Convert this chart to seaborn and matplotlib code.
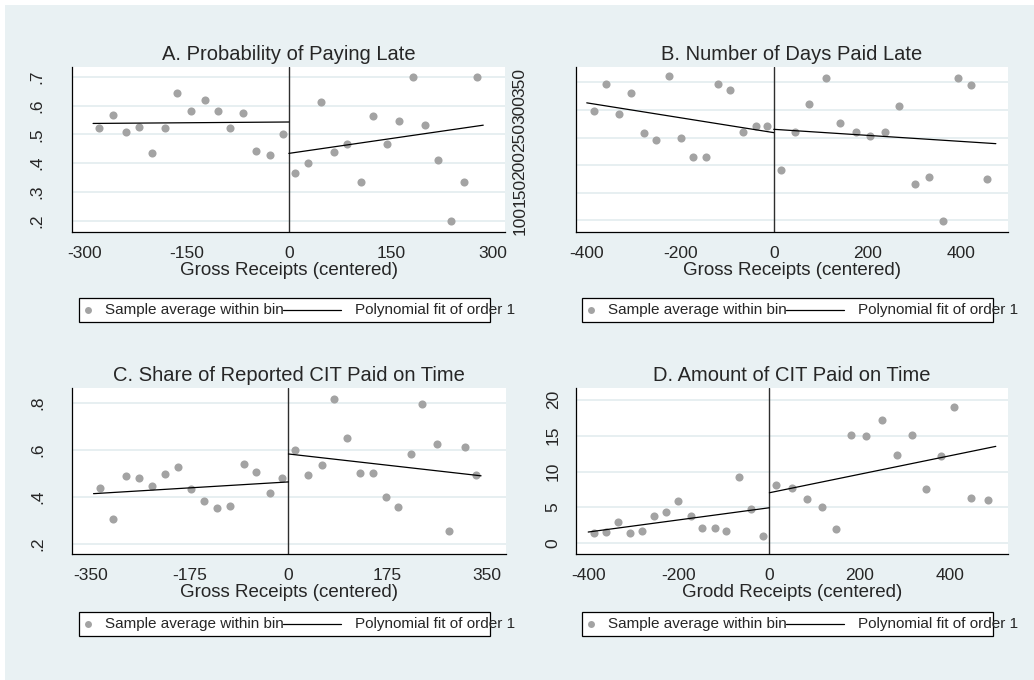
import matplotlib.pyplot as plt
import matplotlib.patches as patches
from matplotlib.lines import Line2D
import seaborn as sns

# ---- data (binned averages + linear fits) ----
a_left_x = [-279, -259, -240, -221, -202, -182, -164, -144, -124, -104, -86, -67, -48, -28, -9]
a_left_y = [0.523, 0.567, 0.508, 0.527, 0.436, 0.523, 0.642, 0.580, 0.620, 0.580, 0.523, 0.573, 0.442, 0.430, 0.500]
a_right_x = [9, 28, 47, 67, 86, 106, 124, 144, 162, 182, 201, 219, 239, 257, 277]
a_right_y = [0.366, 0.400, 0.611, 0.438, 0.468, 0.334, 0.563, 0.468, 0.545, 0.700, 0.534, 0.412, 0.200, 0.334, 0.700]
a_fit_left_x, a_fit_left_y = [-288, 0], [0.538, 0.543]
a_fit_right_x, a_fit_right_y = [0, 286], [0.434, 0.532]

b_left_x = [-385, -358, -331, -305, -278, -251, -224, -198, -172, -146, -119, -93, -66, -39, -14]
b_left_y = [298, 347, 293, 330, 259, 246, 361, 249, 215, 215, 348, 337, 260, 271, 271]
b_right_x = [16, 46, 76, 112, 142, 175, 205, 237, 267, 303, 331, 363, 395, 422, 457]
b_right_y = [191, 260, 310, 358, 277, 260, 252, 260, 308, 165, 178, 99, 358, 346, 175]
b_fit_left_x, b_fit_left_y = [-400, 0], [313, 259]
b_fit_right_x, b_fit_right_y = [0, 475], [265, 239]

c_left_x = [-333, -309, -287, -264, -241, -218, -195, -172, -149, -126, -104, -79, -57, -32, -12]
c_left_y = [0.436, 0.304, 0.490, 0.479, 0.446, 0.496, 0.529, 0.433, 0.384, 0.353, 0.360, 0.539, 0.507, 0.417, 0.481]
c_right_x = [12, 35, 59, 80, 103, 126, 150, 172, 194, 217, 235, 262, 283, 311, 331]
c_right_y = [0.600, 0.494, 0.534, 0.816, 0.653, 0.500, 0.500, 0.400, 0.357, 0.583, 0.796, 0.626, 0.253, 0.614, 0.493]
c_fit_left_x, c_fit_left_y = [-344, 0], [0.414, 0.464]
c_fit_right_x, c_fit_right_y = [0, 340], [0.583, 0.490]

d_left_x = [-387, -361, -335, -307, -281, -254, -228, -201, -174, -148, -121, -95, -68, -41, -15]
d_left_y = [1.48, 1.53, 2.92, 1.39, 1.76, 3.84, 4.40, 5.88, 3.80, 2.13, 2.18, 1.76, 9.26, 4.72, 1.00]
d_right_x = [15, 49, 83, 116, 148, 180, 214, 249, 282, 315, 345, 378, 408, 446, 482]
d_right_y = [8.15, 7.70, 6.20, 5.05, 1.99, 15.05, 14.90, 17.20, 12.30, 15.05, 7.60, 12.20, 19.00, 6.25, 6.00]
d_fit_left_x, d_fit_left_y = [-400, 0], [1.57, 4.95]
d_fit_right_x, d_fit_right_y = [0, 500], [7.04, 13.5]

titles = ["A. Probability of Paying Late", "B. Number of Days Paid Late",
          "C. Share of Reported CIT Paid on Time", "D. Amount of CIT Paid on Time"]
xlabels = ["Gross Receipts (centered)", "Gross Receipts (centered)",
           "Gross Receipts (centered)", "Grodd Receipts (centered)"]
a_xticks = [-300, -150, 0, 150, 300]
b_xticks = [-400, -200, 0, 200, 400]
c_xticks = [-350, -175, 0, 175, 350]
d_xticks = [-400, -200, 0, 200, 400]
a_yticks = [0.2, 0.3, 0.4, 0.5, 0.6, 0.7]
a_yticklabels = [".2", ".3", ".4", ".5", ".6", ".7"]
b_yticks = [100, 150, 200, 250, 300, 350]
b_yticklabels = ["100", "150", "200", "250", "300", "350"]
c_yticks = [0.2, 0.4, 0.6, 0.8]
c_yticklabels = [".2", ".4", ".6", ".8"]
d_yticks = [0, 5, 10, 15, 20]
d_yticklabels = ["0", "5", "10", "15", "20"]
legend_labels = ["Sample average within bin", "Polynomial fit of order 1"]

# ---- style ----
BG = "#e9f1f3"
GRID = "#e3ecef"
MARKER = "#a3a3a3"
W, H = 1034, 680

sns.set_style("white")
plt.rcParams["font.family"] = ["Liberation Sans", "DejaVu Sans"]


def fx(px):
    return px / W


def fy(py):
    return 1 - py / H


def add_panel(fig, rect, d):
    left, top, right, bottom = rect
    ax = fig.add_axes([fx(left), fy(bottom), (right - left) / W, (bottom - top) / H])
    ax.set_facecolor("white")
    ax.set_axisbelow(True)
    ax.yaxis.grid(True, color=GRID, lw=1.2)
    ax.xaxis.grid(False)

    sns.scatterplot(x=d["lx"], y=d["ly"], ax=ax, color=MARKER, s=34, linewidth=0)
    sns.scatterplot(x=d["rx"], y=d["ry"], ax=ax, color=MARKER, s=34, linewidth=0)
    sns.lineplot(x=d["flx"], y=d["fly"], ax=ax, color="black", lw=0.9)
    sns.lineplot(x=d["frx"], y=d["fry"], ax=ax, color="black", lw=0.9)
    ax.axvline(0, color="#2e2e2e", lw=1.0, zorder=1)

    ax.set_xlim(*d["xlim"])
    ax.set_ylim(*d["ylim"])
    ax.set_xticks(d["xticks"])
    ax.set_xticklabels([str(t) for t in d["xticks"]])
    ax.set_yticks(d["yticks"])
    ax.set_yticklabels(d["yticklabels"])

    for side in ["top", "right"]:
        ax.spines[side].set_visible(False)
    for side in ["left", "bottom"]:
        ax.spines[side].set_color("black")
        ax.spines[side].set_linewidth(0.9)

    ax.tick_params(axis="x", direction="out", length=6, width=0.9, color="black",
                   labelsize=12.5, pad=4)
    ax.tick_params(axis="y", direction="out", length=6, width=0.9, color="black",
                   labelsize=12.5, labelrotation=90, pad=d["ypad"])
    for lab in ax.get_yticklabels():
        lab.set_va("center")

    ax.set_title(d["title"], fontsize=14.5, pad=5)
    ax.set_xlabel(d["xlabel"], fontsize=13.5, labelpad=1)
    ax.set_ylabel("")
    return ax


def add_key(fig, box_left, box_top):
    box_w, box_h = 411, 24
    fig.add_artist(patches.Rectangle((fx(box_left), fy(box_top + box_h)), box_w / W, box_h / H,
                                     transform=fig.transFigure, facecolor="white",
                                     edgecolor="black", lw=0.9, zorder=2))
    yc = fy(box_top + box_h / 2)
    fig.add_artist(Line2D([fx(box_left + 9)], [yc], transform=fig.transFigure, marker="o",
                          ms=5, color=MARKER, mec="none", ls="none", zorder=3))
    fig.text(fx(box_left + 26), yc, legend_labels[0], fontsize=11, va="center", zorder=3)
    fig.add_artist(Line2D([fx(box_left + 204), fx(box_left + 262)], [yc, yc],
                          transform=fig.transFigure, color="black", lw=0.9, zorder=3))
    fig.text(fx(box_left + 276), yc, legend_labels[1], fontsize=11, va="center", zorder=3)


panels = [
    dict(lx=a_left_x, ly=a_left_y, rx=a_right_x, ry=a_right_y,
         flx=a_fit_left_x, fly=a_fit_left_y, frx=a_fit_right_x, fry=a_fit_right_y,
         xlim=(-319, 318), ylim=(0.161, 0.734), xticks=a_xticks,
         yticks=a_yticks, yticklabels=a_yticklabels, ypad=14,
         title=titles[0], xlabel=xlabels[0]),
    dict(lx=b_left_x, ly=b_left_y, rx=b_right_x, ry=b_right_y,
         flx=b_fit_left_x, fly=b_fit_left_y, frx=b_fit_right_x, fry=b_fit_right_y,
         xlim=(-423, 501), ylim=(78.8, 378), xticks=b_xticks,
         yticks=b_yticks, yticklabels=b_yticklabels, ypad=29,
         title=titles[1], xlabel=xlabels[1]),
    dict(lx=c_left_x, ly=c_left_y, rx=c_right_x, ry=c_right_y,
         flx=c_fit_left_x, fly=c_fit_left_y, frx=c_fit_right_x, fry=c_fit_right_y,
         xlim=(-382, 384), ylim=(0.157, 0.864), xticks=c_xticks,
         yticks=c_yticks, yticklabels=c_yticklabels, ypad=13.5,
         title=titles[2], xlabel=xlabels[2]),
    dict(lx=d_left_x, ly=d_left_y, rx=d_right_x, ry=d_right_y,
         flx=d_fit_left_x, fly=d_fit_left_y, frx=d_fit_right_x, fry=d_fit_right_y,
         xlim=(-427, 527), ylim=(-1.49, 21.63), xticks=d_xticks,
         yticks=d_yticks, yticklabels=d_yticklabels, ypad=5,
         title=titles[3], xlabel=xlabels[3]),
]
rects = [(72, 67, 505, 232), (576, 67, 1008, 232), (72, 388, 506, 554), (576, 388, 1008, 554)]
key_pos = [(79, 298), (582, 298), (79, 612), (582, 612)]

fig = plt.figure(figsize=(W / 100, H / 100), dpi=100, facecolor="white")
fig.add_artist(patches.Rectangle((fx(5), 0), 1 - fx(5), fy(5), transform=fig.transFigure,
                                 facecolor=BG, edgecolor="none", zorder=0))

for rect, d in zip(rects, panels):
    add_panel(fig, rect, d)
for bl, bt in key_pos:
    add_key(fig, bl, bt)

fig.savefig("out.png", dpi=100, facecolor=fig.get_facecolor())
